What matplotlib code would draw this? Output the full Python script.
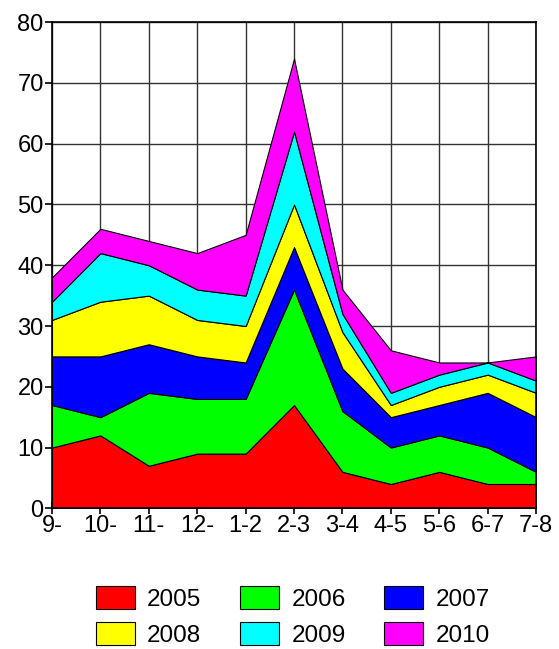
import matplotlib
matplotlib.use("Agg")
import matplotlib.pyplot as plt

periods = ['9-', '10-', '11-', '12-', '1-2', '2-3', '3-4', '4-5', '5-6', '6-7', '7-8']
years = ['2005', '2006', '2007', '2008', '2009', '2010']
colors = ['#ff0000', '#00ff00', '#0000ff', '#ffff00', '#00ffff', '#ff00ff']

v2005 = [10, 12, 7, 9, 9, 17, 6, 4, 6, 4, 4]
v2006 = [7, 3, 12, 9, 9, 19, 10, 6, 6, 6, 2]
v2007 = [8, 10, 8, 7, 6, 7, 7, 5, 5, 9, 9]
v2008 = [6, 9, 8, 6, 6, 7, 6, 2, 3, 3, 4]
v2009 = [3, 8, 5, 5, 5, 12, 3, 2, 2, 2, 2]
v2010 = [4, 4, 4, 6, 10, 12, 4, 7, 2, 0, 4]

plt.rcParams['font.family'] = ['Liberation Sans', 'DejaVu Sans']

fig = plt.figure(figsize=(5.59, 6.49), dpi=100)
ax = fig.add_axes([0.093, 0.2168, 0.866, 0.749])

x = list(range(len(periods)))
polys = ax.stackplot(x, v2005, v2006, v2007, v2008, v2009, v2010,
                     colors=colors, labels=years,
                     edgecolor='black', linewidth=0.8, zorder=2)

ax.set_xlim(0, len(periods) - 1)
ax.set_ylim(0, 80)
ax.set_yticks(range(0, 81, 10))
ax.set_xticks(x)
ax.set_xticklabels(periods)
ax.grid(True, color='#333333', linewidth=1.0, zorder=0)
ax.set_axisbelow(True)
for s in ax.spines.values():
    s.set_linewidth(1.2)
    s.set_zorder(3)
ax.tick_params(axis='y', direction='out', length=5, width=1.2, labelsize=17, pad=1)
ax.tick_params(axis='x', direction='inout', length=8, width=1.2, labelsize=17, pad=1)

# legend reads row by row in the original
order = [0, 3, 1, 4, 2, 5]
fig.legend(handles=[polys[i] for i in order], labels=[years[i] for i in order],
           ncol=3, loc='upper center',
           bbox_to_anchor=(0.524, 1 - 574 / 649), frameon=False,
           fontsize=17.5, handlelength=1.6, handleheight=1.1,
           handletextpad=0.5, columnspacing=1.6, labelspacing=0.45,
           borderpad=0)

fig.savefig('out.png', dpi=100)
